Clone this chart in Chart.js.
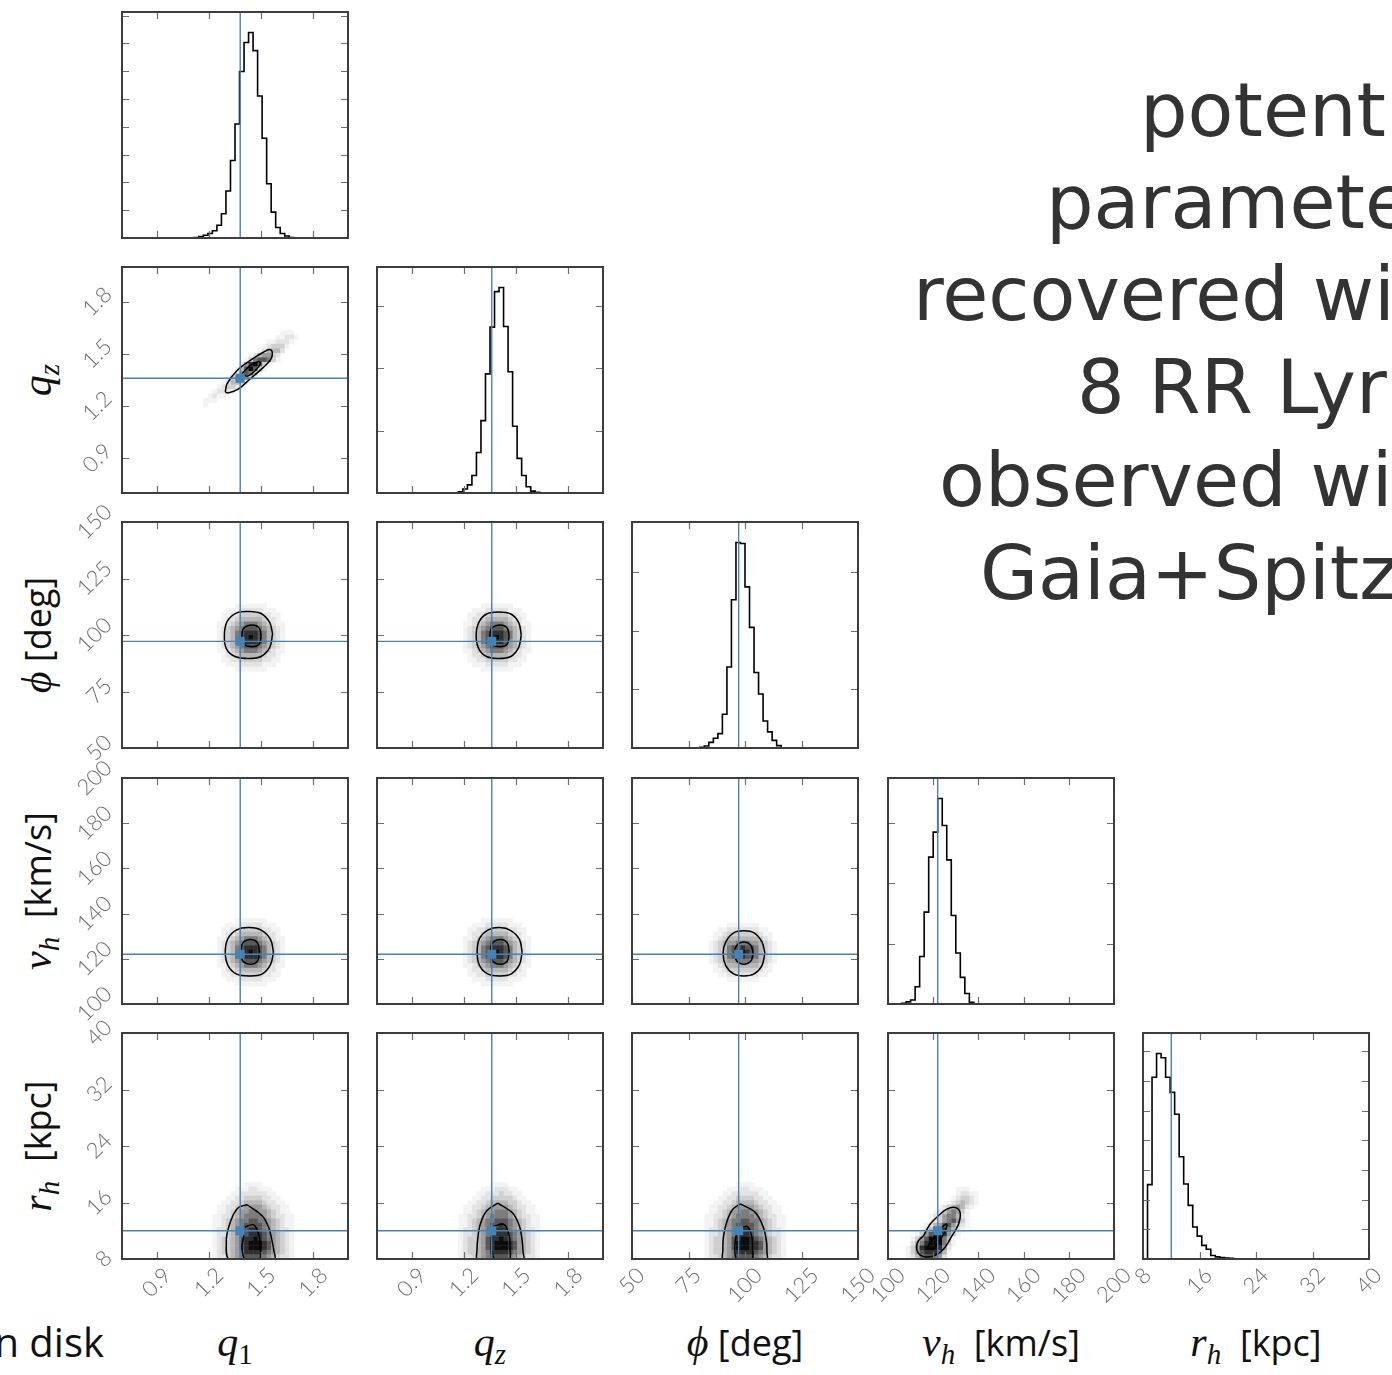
<!DOCTYPE html>
<html>
<head>
<meta charset="utf-8">
<title>Halo potential posterior</title>
<script src="https://cdn.jsdelivr.net/npm/chart.js@4.4.1/dist/chart.umd.min.js"></script>
<style>
  html, body { margin: 0; padding: 0; background: #fff; }
  body { width: 1392px; height: 1375px; overflow: hidden; position: relative; }
  canvas.panel { position: absolute; }
  .title { position: absolute; font-family: 'DejaVu Sans', sans-serif; font-size: 75px; line-height: 75px; color: #333; white-space: nowrap; }
  .side { position: absolute; font-family: 'Open Sans', sans-serif; font-size: 40px; line-height: 40px; color: #111; white-space: nowrap; }
  .xlab { position: absolute; width: 226px; text-align: center; white-space: nowrap; font-family: 'Open Sans', sans-serif; font-size: 36px; line-height: 40px; color: #111; }
  .ylab { position: absolute; width: 300px; text-align: center; white-space: nowrap; font-family: 'Open Sans', sans-serif; font-size: 36px; line-height: 40px; color: #111; transform: translate(-50%, -50%) rotate(-90deg); }
  .m { font-family: 'Liberation Serif', 'DejaVu Serif', serif; font-style: italic; font-size: 42px; }
  .m sub { font-size: 29px; vertical-align: -8px; line-height: 0; }
  .m sub.up { font-style: normal; }
</style>
</head>
<body>
<div class="title" style="left:1140px; top:73px;">potent</div>
<div class="title" style="left:1046px; top:165px;">paramete</div>
<div class="title" style="left:913px; top:257px;">recovered wi</div>
<div class="title" style="left:1077px; top:350px;">8 RR Lyr</div>
<div class="title" style="left:939px; top:443px;">observed wi</div>
<div class="title" style="left:980px; top:536px;">Gaia+Spitz</div>
<div class="side" style="right:1288px; top:1322px; text-align:right;">n disk</div>

<div class="xlab" style="left:122px; top:1322px;"><span class="m">q<sub class="up">1</sub></span></div>
<div class="xlab" style="left:377px; top:1322px;"><span class="m">q<sub>z</sub></span></div>
<div class="xlab" style="left:632px; top:1322px;"><span class="m">ϕ</span> [deg]</div>
<div class="xlab" style="left:888px; top:1322px;"><span class="m">v<sub>h</sub></span>&nbsp; [km/s]</div>
<div class="xlab" style="left:1143px; top:1322px;"><span class="m">r<sub>h</sub></span>&nbsp; [kpc]</div>

<div class="ylab" style="left:37px; top:380px;"><span class="m">q<sub>z</sub></span></div>
<div class="ylab" style="left:37px; top:635px;"><span class="m">ϕ</span> [deg]</div>
<div class="ylab" style="left:37px; top:891px;"><span class="m">v<sub>h</sub></span>&nbsp; [km/s]</div>
<div class="ylab" style="left:37px; top:1146px;"><span class="m">r<sub>h</sub></span>&nbsp; [kpc]</div>

<script>
// ---- parameters: q1, qz, phi [deg], v_h [km/s], r_h [kpc] ----
const PARAM_MIN = [0.7, 0.7, 50, 100, 8];
const PARAM_MAX = [2.0, 2.0, 150, 200, 40];
const N_BINS = 50;
const TRUTH = [1.38, 1.36, 97.2, 122.0, 12.0];

const TICKS_Q1  = [0.9, 1.2, 1.5, 1.8];
const TICKS_QZ  = [0.9, 1.2, 1.5, 1.8];
const TICKS_PHI = [50, 75, 100, 125, 150];
const TICKS_VH  = [100, 120, 140, 160, 180, 200];
const TICKS_RH  = [8, 16, 24, 32, 40];
const LABELS_Q1  = ['0.9', '1.2', '1.5', '1.8'];
const LABELS_QZ  = ['0.9', '1.2', '1.5', '1.8'];
const LABELS_PHI = ['50', '75', '100', '125', '150'];
const LABELS_VH  = ['100', '120', '140', '160', '180', '200'];
const LABELS_RH  = ['8', '16', '24', '32', '40'];

// ---- 1D marginal histograms (50 bins across each parameter range) ----
const histQ1 = [0,0,0,0,0,0,0,0,0,0, 0,0,0,0,1,1,2,5,10,16, 26,46,87,169,279,410,599,703,739,674,
                511,359,195,93,38,16,7,2,0,0, 0,0,0,0,0,0,0,0,0,0];
const histQz = [0,0,0,0,0,0,0,0,0,0, 0,0,0,0,0,0,0,1,4,13, 26,56,130,232,382,532,646,659,534,389,
                214,111,56,20,6,2,0,0,0,0, 0,0,0,0,0,0,0,0,0,0];
const histPhi = [0,0,0,0,0,0,0,0,0,0, 0,0,0,1,1,2,7,19,33,49, 115,276,505,700,697,549,411,257,184,92,
                 55,26,8,1,0,0,0,0,0,0, 0,0,0,0,0,0,0,0,0,0];
const histVh = [0,0,0,2,7,13,57,157,304,486, 569,680,591,477,293,169,88,35,6,0,
                0,0,0,0,0,0,0,0,0,0, 0,0,0,0,0,0,0,0,0,0, 0,0,0,0,0,0,0,0,0,0];
const histRh = [0,251,613,693,679,613,562,488,345,253, 181,108,77,46,33,12,7,5,3,2,
                1,1,0,0,0,0,0,0,0,0, 0,0,0,0,0,0,0,0,0,0, 0,0,0,0,0,0,0,0,0,0];
const HIST_TICK_STEP = [100, 200, 200, 200, 100];

// ---- 2D histograms: [y bin, first x bin, shade per x bin (0 empty .. 9 densest)] ----
const densQ1Qz = [
  [35,35,"111"], [34,34,"11221"], [33,32,"112221"], [32,31,"123331"], [31,30,"124442"],
  [30,28,"1245532"], [29,27,"13677631"], [28,26,"2589731"], [27,25,"1479731"], [26,24,"1257641"],
  [25,23,"1355531"], [24,22,"124431"], [23,21,"123321"], [22,20,"12221"], [21,19,"1211"],
  [20,18,"111"], [19,18,"1"]
];
const densQ1Phi = [
  [31,20,"00000111111100000"], [30,20,"00011122222111000"], [29,20,"00112233333221100"],
  [28,20,"00122344444322100"], [27,20,"01123456665432110"], [26,20,"01234567776543210"],
  [25,20,"01234678887643210"], [24,20,"01234678987643210"], [23,20,"01234678887643210"],
  [22,20,"01234567776543210"], [21,20,"01123456665432110"], [20,20,"00122344444322100"],
  [19,20,"00112233333221100"], [18,20,"00011122222111000"], [17,20,"00000111111100000"]
];
const densQzPhi = [
  [31,18,"00000111111100000"], [30,18,"00011122222111000"], [29,18,"00112233333221100"],
  [28,18,"00122344444322100"], [27,18,"01123456665432110"], [26,18,"01234567776543210"],
  [25,18,"01234678887643210"], [24,18,"01234678987643210"], [23,18,"01234678887543210"],
  [22,18,"01234567776543210"], [21,18,"01123456665432110"], [20,18,"00122344444322100"],
  [19,18,"00112233333221100"], [18,18,"00011122222111000"], [17,18,"00000111111100000"]
];
const densQ1Vh = [
  [18,20,"00000111111100000"], [17,20,"00011122222111000"], [16,20,"00112233333221100"],
  [15,20,"00122344444322100"], [14,20,"01123456665432110"], [13,20,"01234567776543210"],
  [12,20,"01234678887643210"], [11,20,"01234678987643210"], [10,20,"01234678887643210"],
  [9,20,"01234567776543210"], [8,20,"01123456665432110"], [7,20,"00122344444322100"],
  [6,20,"00112233333221100"], [5,20,"00011122222111000"], [4,20,"00000111111100000"]
];
const densQzVh = [
  [18,18,"00000111111100000"], [17,18,"00011122222111000"], [16,18,"00112233333221100"],
  [15,18,"00122344444322100"], [14,18,"01123456665432110"], [13,18,"01234567776543210"],
  [12,18,"01234678887643210"], [11,18,"01234678987643210"], [10,18,"01234678887643210"],
  [9,18,"01234567776543210"], [8,18,"01123456665432110"], [7,18,"00122344444322100"],
  [6,18,"00112233333221100"], [5,18,"00011122222111000"], [4,18,"00000111111100000"]
];
const densPhiVh = [
  [17,17,"000011111110000"], [16,17,"001122222221100"], [15,17,"011233333332110"],
  [14,17,"012344444443210"], [13,17,"123455666554321"], [12,17,"123467787764321"],
  [11,17,"123467898764321"], [10,17,"123467787764321"], [9,17,"123455666554321"],
  [8,17,"012344444443210"], [7,17,"011233333332110"], [6,17,"001122222221100"],
  [5,17,"000011111110000"]
];
const densQ1Rh = [
  [16,19,"00000000111100000000"], [15,19,"00000011122111000000"], [14,19,"00000112222221100000"],
  [13,19,"00001122333322110000"], [12,19,"00011223444432211000"], [11,19,"00112234555543221100"],
  [10,19,"00112345566554321100"], [9,19,"01122345666654322110"], [8,19,"01123456677665432110"],
  [7,19,"01123456777765432110"], [6,19,"01223456788765432210"], [5,19,"01223456788876543210"],
  [4,19,"01233457889876543210"], [3,19,"01233457899987543210"], [2,19,"01233457899987543210"],
  [1,19,"01233456888876543210"], [0,19,"01223456777765432210"]
];
const densQzRh = [
  [16,17,"00000000111100000000"], [15,17,"00000011122211000000"], [14,17,"00000112223221100000"],
  [13,17,"00001122333332110000"], [12,17,"00011223444433211000"], [11,17,"00112234555543221100"],
  [10,17,"00112345566654321100"], [9,17,"01122345666654322110"], [8,17,"01123456677765432110"],
  [7,17,"01123456778765432110"], [6,17,"01223456788865432210"], [5,17,"01223456788876543210"],
  [4,17,"01233457889876543210"], [3,17,"01233457899987543210"], [2,17,"01233457899987543210"],
  [1,17,"01233456888876543210"], [0,17,"01223456777765432210"]
];
const densPhiRh = [
  [16,15,"00000000111100000000"], [15,15,"00000011122111000000"], [14,15,"00000112222221100000"],
  [13,15,"00001122333322110000"], [12,15,"00011223444432211000"], [11,15,"00112234555543221100"],
  [10,15,"00112345566554321100"], [9,15,"01122345666654322110"], [8,15,"01123456677665432110"],
  [7,15,"01123456777765432110"], [6,15,"01223456788765432210"], [5,15,"01223456888765432210"],
  [4,15,"01233457899876543210"], [3,15,"01233457999887543210"], [2,15,"01233457999887543210"],
  [1,15,"01233456888876543210"], [0,15,"01223456777765432210"]
];
const densVhRh = [
  [15,15,"111"], [14,15,"12211"], [13,14,"123321"], [12,13,"1234321"], [11,11,"12345421"],
  [10,10,"12356531"], [9,9,"123566421"], [8,9,"123567531"], [7,8,"1245775321"],
  [6,7,"1246886421"], [5,6,"1357998531"], [4,5,"1357999641"], [3,5,"2468999631"],
  [2,4,"1358999852"], [1,4,"1357888641"], [0,4,"124677652"]
];

// ---- contour levels as closed paths in data coordinates ----
const ctrQ1QzOuter = [[1.294,1.280],[1.304,1.328],[1.362,1.405],[1.438,1.463],[1.515,1.511],[1.550,1.525],
                      [1.564,1.511],[1.558,1.473],[1.515,1.424],[1.438,1.357],[1.371,1.299],[1.313,1.276]];
const ctrQ1QzInner = [[1.390,1.386],[1.438,1.434],[1.486,1.457],[1.496,1.444],[1.467,1.405],[1.420,1.372]];
const ctrQ1PhiOuter = [[1.566,100.5],[1.55,105.5],[1.50,109.5],[1.43,110.4],[1.36,109.8],[1.305,106],
                       [1.289,100],[1.30,94],[1.35,90.5],[1.43,89.6],[1.50,90.5],[1.55,94.5]];
const ctrQ1PhiInner = [[1.50,99.5],[1.49,103],[1.45,104.4],[1.40,103],[1.39,99.5],[1.40,96],[1.45,94.8],[1.49,96]];
const ctrQzPhiOuter = [[1.53,100],[1.515,105.5],[1.47,109.3],[1.40,110.2],[1.33,109.3],[1.285,105.5],
                       [1.27,100],[1.285,94],[1.33,90.5],[1.40,89.6],[1.47,90.5],[1.515,94.5]];
const ctrQzPhiInner = [[1.46,99.5],[1.45,103],[1.41,104.4],[1.36,103],[1.35,99.5],[1.36,96],[1.41,94.8],[1.45,96]];
const ctrQ1VhOuter = [[1.571,123],[1.555,128.5],[1.505,132.5],[1.433,133.8],[1.36,132.8],[1.31,129],
                      [1.294,123],[1.31,117],[1.36,113.2],[1.433,112.4],[1.505,113.2],[1.555,117.5]];
const ctrQ1VhInner = [[1.49,123],[1.48,127],[1.44,128.5],[1.395,127],[1.385,123],[1.395,119],[1.44,117.6],[1.48,119]];
const ctrQzVhOuter = [[1.535,123],[1.52,128.5],[1.47,132.5],[1.405,133.8],[1.34,132.8],[1.29,129],
                      [1.276,123],[1.29,117],[1.34,113.2],[1.405,112.4],[1.47,113.2],[1.52,117.5]];
const ctrQzVhInner = [[1.46,123],[1.45,127],[1.41,128.5],[1.365,127],[1.355,123],[1.365,119],[1.41,117.6],[1.45,119]];
const ctrPhiVhOuter = [[108.8,122.5],[107.5,127.5],[104,131.5],[99.5,132.4],[95,131.5],[91.5,127.5],
                       [90.3,122.5],[91.5,117],[95,113.3],[99.5,112.4],[104,113.3],[107.5,117]];
const ctrPhiVhInner = [[103.6,122.5],[102.6,126],[99.5,127.4],[96.4,126],[95.4,122.5],[96.4,119],[99.5,117.6],[102.6,119]];
const ctrQ1RhOuter = [[1.419,15.68],[1.506,14.12],[1.544,12.45],[1.563,10.56],[1.573,9.24],[1.575,7.9],
                      [1.32,7.9],[1.30,10.56],[1.313,12.45],[1.342,14.35],[1.371,15.3]];
const ctrQ1RhInner = [[1.40,12.45],[1.457,12.84],[1.486,11.5],[1.496,9.6],[1.49,7.9],[1.41,7.9],[1.39,9.6],[1.40,11.27]];
const ctrQzRhOuter = [[1.395,15.9],[1.48,14.5],[1.52,12.6],[1.535,10.6],[1.54,9.0],[1.54,7.9],
                      [1.28,7.9],[1.275,9.2],[1.28,11.0],[1.295,13.0],[1.33,14.8]];
const ctrQzRhInner = [[1.37,12.6],[1.43,12.9],[1.46,11.4],[1.465,9.6],[1.46,7.9],[1.38,7.9],[1.36,9.6],[1.365,11.3]];
const ctrPhiRhOuter = [[98,15.8],[104.5,14.6],[108,12.6],[109.5,10.5],[109.7,9],[109.5,7.9],
                       [90.5,7.9],[90.2,9.2],[90.5,11.2],[92,13.3],[94.5,15]];
const ctrPhiRhInner = [[97,12.2],[101,12.6],[103,11.2],[103.3,9.5],[103,7.9],[96.5,7.9],[95.5,9.5],[96,11.2]];
const ctrVhRhOuter = [[115.7,11.27],[118.6,12.93],[122.3,14.12],[126.0,15.06],[129.7,15.3],[131.9,14.59],[131.2,12.93],
                      [128.3,11.27],[124.5,9.38],[120.1,8.43],[115.0,8.43],[112.7,9.38],[113.4,10.56]];
const ctrVhRhInner = [[117.2,9.6],[120.9,11.27],[124.5,12.69],[126.0,12.93],[125.3,12.0],[122.3,10.32],[119.4,9.38]];

// ---- layout ----
const PANEL_LEFT = [122, 377, 632, 888, 1143];
const PANEL_TOP = [12, 267, 522, 778, 1033];
const PANEL_SIZE = 226;
const MARGIN = { L: 90, T: 40, R: 22, B: 80 };
const BLUE = '#4682b4';
const SHADES = ['#ffffff','#f3f3f3','#e3e3e3','#cfcfcf','#b7b7b7','#9c9c9c','#7c7c7c','#585858','#303030','#0d0d0d'];
const TICK_FONT = 22;

const TICKS = [TICKS_Q1, TICKS_QZ, TICKS_PHI, TICKS_VH, TICKS_RH];
const TICK_LABELS = [LABELS_Q1, LABELS_QZ, LABELS_PHI, LABELS_VH, LABELS_RH];
const HISTS = [histQ1, histQz, histPhi, histVh, histRh];

const PAIRS = [
  { row: 1, col: 0, dens: densQ1Qz,  outer: ctrQ1QzOuter,  inner: ctrQ1QzInner },
  { row: 2, col: 0, dens: densQ1Phi, outer: ctrQ1PhiOuter, inner: ctrQ1PhiInner },
  { row: 2, col: 1, dens: densQzPhi, outer: ctrQzPhiOuter, inner: ctrQzPhiInner },
  { row: 3, col: 0, dens: densQ1Vh,  outer: ctrQ1VhOuter,  inner: ctrQ1VhInner },
  { row: 3, col: 1, dens: densQzVh,  outer: ctrQzVhOuter,  inner: ctrQzVhInner },
  { row: 3, col: 2, dens: densPhiVh, outer: ctrPhiVhOuter, inner: ctrPhiVhInner },
  { row: 4, col: 0, dens: densQ1Rh,  outer: ctrQ1RhOuter,  inner: ctrQ1RhInner },
  { row: 4, col: 1, dens: densQzRh,  outer: ctrQzRhOuter,  inner: ctrQzRhInner },
  { row: 4, col: 2, dens: densPhiRh, outer: ctrPhiRhOuter, inner: ctrPhiRhInner },
  { row: 4, col: 3, dens: densVhRh,  outer: ctrVhRhOuter,  inner: ctrVhRhInner }
];

function binEdge(p, k) {
  return PARAM_MIN[p] + (PARAM_MAX[p] - PARAM_MIN[p]) * k / N_BINS;
}

function rotatedLabel(ctx, text, anchorX, anchorY, side) {
  const w = ctx.measureText(text).width;
  const s = (w + TICK_FONT * 0.75) / Math.SQRT2;
  const cx = side === 'bottom' ? anchorX : anchorX - 8 - s / 2;
  const cy = side === 'bottom' ? anchorY + 7 + s / 2 : anchorY;
  ctx.save();
  ctx.translate(cx, cy);
  ctx.rotate(-Math.PI / 4);
  ctx.textAlign = 'center';
  ctx.textBaseline = 'middle';
  ctx.fillText(text, 0, 0);
  ctx.restore();
}

// frame, inward tick marks and the outer tick labels of one panel
function framePlugin(row, col, yTicks) {
  return {
    id: 'frame' + row + col,
    afterDraw(chart) {
      const { ctx, chartArea: a, scales: { x, y } } = chart;
      ctx.save();
      ctx.strokeStyle = '#6e6e6e';
      ctx.lineWidth = 1.2;
      ctx.beginPath();
      for (const v of TICKS[col]) {
        const px = Math.round(x.getPixelForValue(v)) + 0.5;
        ctx.moveTo(px, a.bottom); ctx.lineTo(px, a.bottom - 7);
        ctx.moveTo(px, a.top); ctx.lineTo(px, a.top + 7);
      }
      for (const v of yTicks) {
        const py = Math.round(y.getPixelForValue(v)) + 0.5;
        ctx.moveTo(a.left, py); ctx.lineTo(a.left + 7, py);
        ctx.moveTo(a.right, py); ctx.lineTo(a.right - 7, py);
      }
      ctx.stroke();
      ctx.strokeStyle = '#3d3d3d';
      ctx.lineWidth = 2;
      ctx.strokeRect(a.left, a.top, a.right - a.left, a.bottom - a.top);

      ctx.fillStyle = '#6f6f6f';
      ctx.font = '300 ' + TICK_FONT + 'px Lato, "DejaVu Sans", sans-serif';
      if (row === 4) {
        TICKS[col].forEach((v, i) => rotatedLabel(ctx, TICK_LABELS[col][i], x.getPixelForValue(v), a.bottom, 'bottom'));
      }
      if (col === 0 && row > 0) {
        TICKS[row].forEach((v, i) => rotatedLabel(ctx, TICK_LABELS[row][i], a.left, y.getPixelForValue(v), 'left'));
      }
      ctx.restore();
    }
  };
}

// shaded 2D histogram cells, placed through the panel scales
function densityPlugin(pair) {
  return {
    id: 'density' + pair.row + pair.col,
    beforeDatasetsDraw(chart) {
      const { ctx, chartArea: a, scales: { x, y } } = chart;
      ctx.save();
      ctx.beginPath();
      ctx.rect(a.left, a.top, a.right - a.left, a.bottom - a.top);
      ctx.clip();
      for (const [yb, xb0, shades] of pair.dens) {
        const y0 = y.getPixelForValue(binEdge(pair.row, yb));
        const y1 = y.getPixelForValue(binEdge(pair.row, yb + 1));
        for (let i = 0; i < shades.length; i++) {
          const lev = +shades[i];
          if (!lev) continue;
          const x0 = x.getPixelForValue(binEdge(pair.col, xb0 + i));
          const x1 = x.getPixelForValue(binEdge(pair.col, xb0 + i + 1));
          ctx.fillStyle = SHADES[lev];
          ctx.fillRect(x0, y1, x1 - x0 + 0.4, y0 - y1 + 0.4);
        }
      }
      ctx.restore();
    }
  };
}

function createCanvas(row, col) {
  const cv = document.createElement('canvas');
  cv.className = 'panel';
  cv.width = PANEL_SIZE + MARGIN.L + MARGIN.R;
  cv.height = PANEL_SIZE + MARGIN.T + MARGIN.B;
  cv.style.left = (PANEL_LEFT[col] - MARGIN.L) + 'px';
  cv.style.top = (PANEL_TOP[row] - MARGIN.T) + 'px';
  cv.style.width = cv.width + 'px';
  cv.style.height = cv.height + 'px';
  document.body.appendChild(cv);
  return cv;
}

function baseOptions(xMin, xMax, yMin, yMax) {
  return {
    responsive: false,
    animation: false,
    devicePixelRatio: 1,
    events: [],
    layout: { padding: { left: MARGIN.L, top: MARGIN.T, right: MARGIN.R, bottom: MARGIN.B } },
    plugins: { legend: { display: false }, tooltip: { enabled: false } },
    scales: {
      x: { type: 'linear', display: false, min: xMin, max: xMax },
      y: { type: 'linear', display: false, min: yMin, max: yMax }
    }
  };
}

function lineSet(points, color, width, order, extra) {
  return Object.assign({
    data: points.map(([px, py]) => ({ x: px, y: py })),
    showLine: true, fill: false, pointRadius: 0,
    borderColor: color, borderWidth: width, order: order
  }, extra || {});
}

// diagonal: marginal histograms
for (let p = 0; p < 5; p++) {
  const hist = HISTS[p];
  const yMax = 1.1 * Math.max(...hist);
  const yTicks = [];
  for (let t = HIST_TICK_STEP[p]; t <= yMax; t += HIST_TICK_STEP[p]) yTicks.push(t);
  const steps = hist.map((c, k) => [binEdge(p, k), c]);
  steps.push([binEdge(p, N_BINS), hist[N_BINS - 1]]);
  new Chart(createCanvas(p, p), {
    type: 'scatter',
    data: {
      datasets: [
        lineSet([[TRUTH[p], 0], [TRUTH[p], yMax]], BLUE, 1.4, 0),
        lineSet(steps, '#000', 1.6, 1, { stepped: 'before' })
      ]
    },
    options: baseOptions(PARAM_MIN[p], PARAM_MAX[p], 0, yMax),
    plugins: [framePlugin(p, p, yTicks)]
  });
}

// lower triangle: 2D histograms with contours and truth cross-hairs
for (const pair of PAIRS) {
  const px = pair.col, py = pair.row;
  const close = pts => pts.concat([pts[0]]);
  new Chart(createCanvas(py, px), {
    type: 'scatter',
    data: {
      datasets: [
        { data: [{ x: TRUTH[px], y: TRUTH[py] }], pointStyle: 'rect', pointRadius: 6.4,
          backgroundColor: BLUE, borderWidth: 0, order: 0 },
        lineSet([[TRUTH[px], PARAM_MIN[py]], [TRUTH[px], PARAM_MAX[py]]], BLUE, 1.4, 1),
        lineSet([[PARAM_MIN[px], TRUTH[py]], [PARAM_MAX[px], TRUTH[py]]], BLUE, 1.4, 1),
        lineSet(close(pair.outer), '#000', 1.5, 2, { tension: 0.35 }),
        lineSet(close(pair.inner), '#000', 1.5, 2, { tension: 0.35 })
      ]
    },
    options: baseOptions(PARAM_MIN[px], PARAM_MAX[px], PARAM_MIN[py], PARAM_MAX[py]),
    plugins: [densityPlugin(pair), framePlugin(py, px, TICKS[py])]
  });
}
</script>
</body>
</html>
